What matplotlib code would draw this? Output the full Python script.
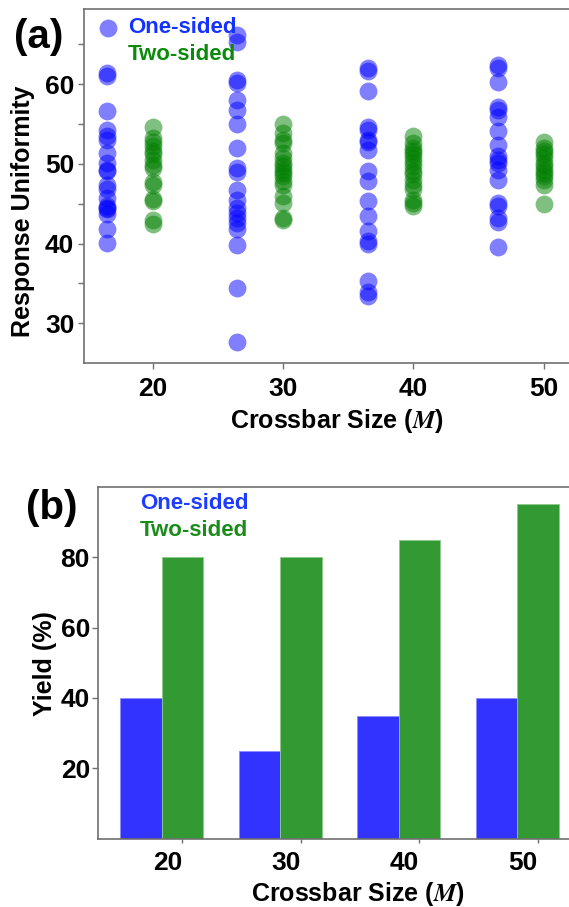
import matplotlib
matplotlib.use("Agg")
import matplotlib.pyplot as plt
import numpy as np
from matplotlib.ticker import MultipleLocator
from matplotlib.transforms import ScaledTranslation

# crossbar sizes
sizes = [20, 30, 40, 50]

# response uniformity per device, one-sided crossbars
one_sided_20 = [61.45, 61.0, 56.6, 54.3, 53.45, 53.0, 51.4, 50.1, 49.3, 49.1,
                47.4, 46.8, 45.75, 44.7, 44.5, 44.3, 43.7, 41.9, 40.1]
one_sided_30 = [66.2, 65.3, 60.5, 60.1, 58.0, 56.8, 55.0, 52.0, 49.5, 48.95,
                46.7, 45.5, 44.5, 43.9, 43.25, 42.6, 41.9, 39.8, 34.4, 27.7]
one_sided_40 = [62.0, 61.7, 59.1, 54.7, 54.3, 53.0, 52.7, 51.8, 49.1, 47.8,
                45.3, 43.45, 41.6, 40.3, 39.9, 35.3, 33.9, 33.45]
one_sided_50 = [62.4, 62.0, 60.3, 57.2, 56.8, 55.95, 54.1, 52.4, 50.95, 50.5,
                50.1, 49.3, 48.0, 45.1, 44.7, 43.25, 42.7, 39.6]

# response uniformity per device, two-sided crossbars
two_sided_20 = [54.6, 53.25, 52.8, 52.2, 51.6, 51.2, 50.5, 49.9, 49.5, 47.7,
                47.4, 45.6, 45.3, 42.95, 42.5]
two_sided_30 = [55.0, 53.9, 53.0, 52.6, 51.4, 50.75, 50.1, 49.7, 49.3, 48.9,
                48.45, 47.8, 47.4, 45.95, 45.1, 43.25, 43.0]
two_sided_40 = [53.5, 52.6, 52.0, 51.6, 51.2, 50.75, 50.3, 49.7, 49.1, 48.7,
                48.0, 47.4, 46.8, 45.5, 45.1, 44.7]
two_sided_50 = [52.8, 52.0, 51.6, 51.2, 50.75, 50.1, 49.7, 49.3, 48.9, 48.45,
                48.0, 47.4, 45.0]

one_sided = [one_sided_20, one_sided_30, one_sided_40, one_sided_50]
two_sided = [two_sided_20, two_sided_30, two_sided_40, two_sided_50]

# yield (%)
yield_one = [40, 25, 35, 40]
yield_two = [80, 80, 85, 95]

plt.rcParams["font.family"] = ["Liberation Sans", "DejaVu Sans"]
plt.rcParams["font.weight"] = "bold"
plt.rcParams["mathtext.fontset"] = "stix"

W, H = 569, 907
fig = plt.figure(figsize=(W / 100, H / 100), dpi=100)


def axes_px(left, top, right, bottom):
    return fig.add_axes([left / W, 1 - bottom / H, (right - left) / W, (bottom - top) / H])


def style_axes(ax):
    for side in ["left", "bottom", "top"]:
        ax.spines[side].set_color("#707070")
        ax.spines[side].set_linewidth(1.2)
    ax.spines["right"].set_visible(False)
    ax.tick_params(which="both", length=4, width=1, color="#707070",
                   labelsize=19)
    for lbl in ax.get_xticklabels() + ax.get_yticklabels():
        lbl.set_fontweight("bold")


# (a) response uniformity
ax1 = axes_px(84, 9.3, 580, 362.7)
shift = 3.5
for i, (s, one, two) in enumerate(zip(sizes, one_sided, two_sided)):
    ax1.scatter(np.full(len(one), s - shift), one, s=165, color="blue",
                alpha=0.5, lw=0, label="One-sided" if i == 0 else None)
    ax1.scatter(np.full(len(two), s), two, s=165, color="green",
                alpha=0.5, lw=0, label="Two-sided" if i == 0 else None)

ax1.set_xlim(14.72, 52.8)
ax1.set_ylim(25.06, 69.41)
ax1.set_xticks(sizes)
ax1.set_yticks([30, 40, 50, 60])
ax1.yaxis.set_minor_locator(MultipleLocator(5))
style_axes(ax1)
ax1.tick_params(axis="x", pad=6)
ax1.tick_params(axis="y", pad=3)
ax1.set_xlabel(r"Crossbar Size ($M$)", fontsize=18, fontweight="bold")
ax1.xaxis.set_label_coords(0.509, -0.125)
ax1.set_ylabel("Response Uniformity", fontsize=18, fontweight="bold")
ax1.yaxis.set_label_coords(-0.099, 0.429)

leg1 = ax1.legend(loc="upper left", bbox_to_anchor=(0.026, 0.977), frameon=False,
                  prop={"size": 16, "weight": "bold"}, borderpad=0, borderaxespad=0,
                  handlelength=1.0, handletextpad=0.4, labelspacing=0.24,
                  scatterpoints=1)
leg1.legend_handles[1].set_visible(False)
for txt, c in zip(leg1.get_texts(), ["#1432ff", "#0b8a0b"]):
    txt.set_color(c)

# (b) yield
ax2 = axes_px(98.3, 486.7, 580, 838.7)
w = 3.5
x = np.array(sizes)
ax2.bar(x - w / 2, yield_one, w, color="#3333ff", edgecolor="#8c8cff",
        linewidth=0.6, label="One-sided")
ax2.bar(x + w / 2, yield_two, w, color="#339933", edgecolor="#8fc98f",
        linewidth=0.6, label="Two-sided")
ax2.set_xlim(14.65, 55.3)
ax2.set_ylim(0, 100)
ax2.set_xticks(x + w / 2)
ax2.set_xticklabels([str(s) for s in sizes])
ax2.set_yticks([20, 40, 60, 80])
style_axes(ax2)
ax2.tick_params(axis="x", pad=6, length=3)
ax2.tick_params(axis="y", pad=2)
offset = ScaledTranslation(-0.15, 0, fig.dpi_scale_trans)
for lbl in ax2.get_xticklabels():
    lbl.set_transform(lbl.get_transform() + offset)
ax2.set_xlabel(r"Crossbar Size ($M$)", fontsize=18, fontweight="bold")
ax2.xaxis.set_label_coords(0.539, -0.118)
ax2.set_ylabel("Yield (%)", fontsize=18, fontweight="bold")
ax2.yaxis.set_label_coords(-0.086, 0.498)

leg2 = ax2.legend(loc="upper left", bbox_to_anchor=(0.0866, 0.981), frameon=False,
                  prop={"size": 16, "weight": "bold"}, borderpad=0, borderaxespad=0,
                  handlelength=0, handletextpad=0, labelspacing=0.24)
for h in leg2.legend_handles:
    h.set_visible(False)
for txt, c in zip(leg2.get_texts(), ["#1e3cff", "#1a8c1a"]):
    txt.set_color(c)

fig.text(39 / W, 1 - 37 / H, "(a)", fontsize=29, fontweight="bold",
         ha="center", va="center")
fig.text(52 / W, 1 - 508 / H, "(b)", fontsize=29, fontweight="bold",
         ha="center", va="center")

fig.savefig("out.png", dpi=100)
